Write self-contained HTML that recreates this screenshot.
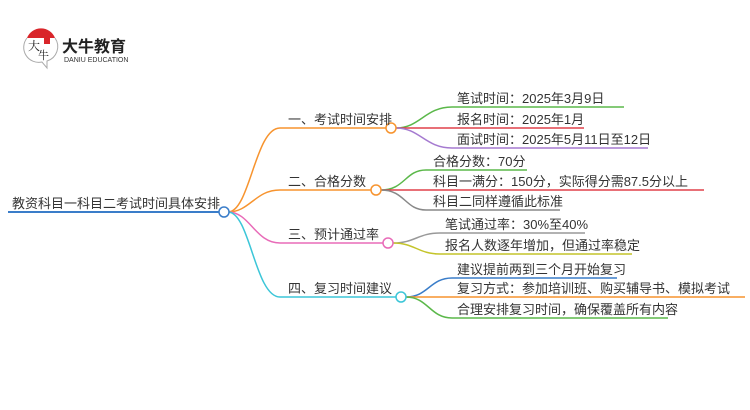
<!DOCTYPE html>
<html><head><meta charset="utf-8"><style>
body{margin:0;width:750px;height:410px;background:#fff;overflow:hidden;position:relative;font-family:"Liberation Sans","Noto Sans CJK SC",sans-serif;}
.t{position:absolute;font-size:13px;color:#333;white-space:nowrap;line-height:14px;}
</style></head><body>
<svg width="750" height="410" style="position:absolute;left:0;top:0" fill="none" stroke-width="1.5">
<!-- logo -->
<path d="M27 38 A15 15 0 0 1 55 38 Z" fill="#d9252a" stroke="none"/>
<path d="M27 38 A15 15 0 0 0 42 62 L47 68 L47 61 A15 15 0 0 0 55 38" stroke="#aaa" stroke-width="1"/>
<rect x="44" y="37" width="6" height="7" fill="#d9252a" stroke="none"/>
<!-- root -->
<line x1="8" y1="212" x2="220" y2="212" stroke="#3a7dc9" stroke-width="2"/>
<path d="M228 212 C250 212,255 128,280 128 L386 128" stroke="#f7942f"/>
<path d="M228 212 C250 212,255 190,280 190 L371 190" stroke="#f7942f"/>
<path d="M228 212 C250 212,255 243,280 243 L383 243" stroke="#e86bb8"/>
<path d="M228 212 C250 212,255 297,280 297 L396 297" stroke="#3cc6d8"/>
<path d="M396 128 C420 128,425 107,452 107 L624 107" stroke="#5bb84a"/>
<path d="M396 128 L584 128" stroke="#e0404a"/>
<path d="M396 128 C420 128,425 148,452 148 L648 148" stroke="#a57ad0"/>
<path d="M381 190 C405 190,405 170,426 170 L527 170" stroke="#5bb84a"/>
<path d="M381 190 L704 190" stroke="#e0404a"/>
<path d="M381 190 C405 190,405 210,426 210 L560 210" stroke="#888"/>
<path d="M393 243 C415 243,418 233,440 233 L585 233" stroke="#999"/>
<path d="M393 243 C415 243,418 254,440 254 L632 254" stroke="#c4c42a"/>
<path d="M406 297 C428 297,430 278,452 278 L617 278" stroke="#3a7dc9"/>
<path d="M406 297 L745 297" stroke="#f7942f"/>
<path d="M406 297 C428 297,430 318,452 318 L668 318" stroke="#5bb84a"/>
<circle cx="224" cy="212" r="5" fill="#fff" stroke="#3a7dc9"/>
<circle cx="391" cy="128" r="5" fill="#fff" stroke="#f7942f"/>
<circle cx="376" cy="190" r="5" fill="#fff" stroke="#f7942f"/>
<circle cx="388" cy="243" r="5" fill="#fff" stroke="#e86bb8"/>
<circle cx="401" cy="297" r="5" fill="#fff" stroke="#3cc6d8"/>
</svg>
<div class="t" style="left:28px;top:40px;font-size:12px;color:#222;font-family:'Noto Serif CJK SC',serif;line-height:12px">大</div>
<div class="t" style="left:38px;top:50px;font-size:11px;color:#222;font-family:'Noto Serif CJK SC',serif;line-height:11px">牛</div>
<div class="t" style="left:62px;top:39px;font-size:16px;font-weight:bold;color:#222;line-height:18px">大牛教育</div>
<div class="t" style="left:64px;top:57px;font-size:7px;color:#333;line-height:8px">DANIU EDUCATION</div>
<div class="t" style="left:12px;top:197px">教资科目一科目二考试时间具体安排</div>
<div class="t" style="left:288px;top:113px">一、考试时间安排</div>
<div class="t" style="left:288px;top:175px">二、合格分数</div>
<div class="t" style="left:288px;top:228px">三、预计通过率</div>
<div class="t" style="left:288px;top:282px">四、复习时间建议</div>
<div class="t" style="left:457px;top:92px">笔试时间：2025年3月9日</div>
<div class="t" style="left:457px;top:113px">报名时间：2025年1月</div>
<div class="t" style="left:457px;top:133px">面试时间：2025年5月11日至12日</div>
<div class="t" style="left:433px;top:155px">合格分数：70分</div>
<div class="t" style="left:433px;top:175px">科目一满分：150分，实际得分需87.5分以上</div>
<div class="t" style="left:433px;top:195px">科目二同样遵循此标准</div>
<div class="t" style="left:445px;top:218px">笔试通过率：30%至40%</div>
<div class="t" style="left:445px;top:239px">报名人数逐年增加，但通过率稳定</div>
<div class="t" style="left:457px;top:263px">建议提前两到三个月开始复习</div>
<div class="t" style="left:457px;top:282px">复习方式：参加培训班、购买辅导书、模拟考试</div>
<div class="t" style="left:457px;top:303px">合理安排复习时间，确保覆盖所有内容</div>
</body></html>
